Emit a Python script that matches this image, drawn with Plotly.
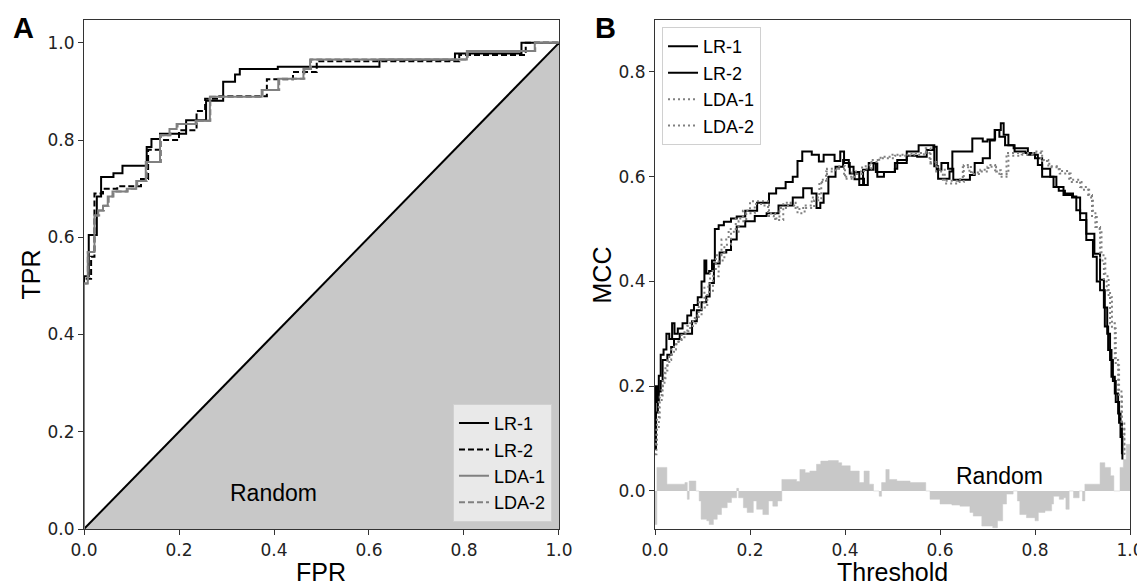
import plotly.graph_objects as go

# ---- panel A: ROC curves (step points, fpr where the curve rises -> tpr reached)
lr1_fpr = [0.0, 0.0, 0.010, 0.027, 0.036, 0.062, 0.081, 0.132, 0.142, 0.160, 0.215, 0.257, 0.293, 0.318, 0.328, 0.408, 0.622, 0.781, 0.921, 1.0]
lr1_tpr = [0.0, 0.520, 0.605, 0.684, 0.724, 0.732, 0.747, 0.786, 0.802, 0.813, 0.841, 0.881, 0.920, 0.935, 0.946, 0.951, 0.965, 0.978, 1.0, 1.0]

lr2_fpr = [0.0, 0.0, 0.015, 0.022, 0.040, 0.070, 0.120, 0.135, 0.160, 0.200, 0.237, 0.255, 0.280, 0.385, 0.440, 0.490, 0.790, 0.930, 1.0]
lr2_tpr = [0.0, 0.515, 0.560, 0.690, 0.700, 0.705, 0.720, 0.780, 0.800, 0.820, 0.860, 0.885, 0.890, 0.925, 0.940, 0.962, 0.975, 1.0, 1.0]

lda1_fpr = [0.0, 0.0, 0.008, 0.022, 0.030, 0.040, 0.050, 0.060, 0.090, 0.110, 0.130, 0.160, 0.180, 0.195, 0.235, 0.265, 0.374, 0.409, 0.462, 0.476, 0.806, 0.949, 1.0]
lda1_tpr = [0.0, 0.505, 0.570, 0.645, 0.655, 0.665, 0.684, 0.694, 0.700, 0.716, 0.755, 0.810, 0.823, 0.833, 0.840, 0.889, 0.903, 0.926, 0.946, 0.966, 0.983, 1.0, 1.0]

lda2_fpr = [0.0, 0.0, 0.008, 0.022, 0.032, 0.042, 0.052, 0.062, 0.092, 0.112, 0.132, 0.162, 0.182, 0.197, 0.237, 0.266, 0.376, 0.411, 0.464, 0.478, 0.808, 0.950, 1.0]
lda2_tpr = [0.0, 0.505, 0.570, 0.645, 0.655, 0.665, 0.684, 0.694, 0.700, 0.716, 0.755, 0.810, 0.823, 0.833, 0.840, 0.889, 0.903, 0.926, 0.946, 0.966, 0.983, 1.0, 1.0]

rand_fpr = [0.0, 1.0]
rand_tpr = [0.0, 1.0]

# ---- panel B: MCC vs threshold
lr1_thr = [0.000, 0.001, 0.004, 0.008, 0.012, 0.018, 0.024, 0.030, 0.036, 0.041, 0.048, 0.058, 0.068, 0.076, 0.082, 0.090,
           0.098, 0.104, 0.108, 0.114, 0.120, 0.126, 0.134, 0.145, 0.160, 0.172, 0.190, 0.215, 0.240, 0.255, 0.275, 0.290,
           0.300, 0.310, 0.330, 0.345, 0.355, 0.378, 0.390, 0.398, 0.410, 0.420, 0.430, 0.438, 0.450, 0.465, 0.480, 0.505,
           0.530, 0.555, 0.582, 0.588, 0.596, 0.620, 0.626, 0.660, 0.668, 0.690, 0.700, 0.716, 0.728, 0.734, 0.744, 0.755,
           0.780, 0.785, 0.806, 0.815, 0.839, 0.850, 0.863, 0.880, 0.887, 0.895, 0.908, 0.922, 0.930, 0.937, 0.947, 0.954,
           0.961, 0.968, 0.975, 0.980, 0.984]
lr1_mcc = [0.120, 0.200, 0.170, 0.220, 0.260, 0.270, 0.300, 0.290, 0.320, 0.300, 0.310, 0.320, 0.335, 0.345, 0.355, 0.370,
           0.400, 0.440, 0.415, 0.420, 0.440, 0.500, 0.507, 0.514, 0.520, 0.524, 0.535, 0.550, 0.568, 0.578, 0.590, 0.600,
           0.630, 0.648, 0.642, 0.629, 0.642, 0.630, 0.648, 0.626, 0.606, 0.595, 0.584, 0.613, 0.626, 0.609, 0.609, 0.626,
           0.648, 0.660, 0.660, 0.620, 0.596, 0.610, 0.648, 0.648, 0.673, 0.667, 0.671, 0.689, 0.702, 0.680, 0.660, 0.654,
           0.654, 0.642, 0.622, 0.600, 0.580, 0.573, 0.568, 0.562, 0.536, 0.517, 0.479, 0.447, 0.400, 0.383, 0.314, 0.269,
           0.218, 0.186, 0.148, 0.103, 0.060]

lr2_thr = [0.000, 0.002, 0.006, 0.012, 0.016, 0.026, 0.034, 0.040, 0.052, 0.070, 0.078, 0.088, 0.098, 0.108, 0.115, 0.124,
           0.136, 0.150, 0.160, 0.172, 0.190, 0.210, 0.235, 0.260, 0.290, 0.312, 0.330, 0.340, 0.348, 0.355, 0.365, 0.380,
           0.396, 0.408, 0.418, 0.430, 0.440, 0.448, 0.460, 0.468, 0.482, 0.505, 0.510, 0.530, 0.552, 0.572, 0.586, 0.593,
           0.603, 0.617, 0.628, 0.652, 0.663, 0.673, 0.690, 0.705, 0.715, 0.725, 0.737, 0.757, 0.780, 0.800, 0.815, 0.832,
           0.845, 0.860, 0.878, 0.895, 0.908, 0.925, 0.937, 0.945, 0.952, 0.958, 0.964, 0.970, 0.977, 0.983]
lr2_mcc = [0.080, 0.150, 0.190, 0.210, 0.250, 0.260, 0.275, 0.290, 0.300, 0.300, 0.324, 0.345, 0.360, 0.371, 0.397, 0.434,
           0.455, 0.460, 0.480, 0.505, 0.515, 0.525, 0.530, 0.545, 0.560, 0.578, 0.568, 0.540, 0.550, 0.568, 0.600, 0.619,
           0.632, 0.619, 0.609, 0.596, 0.584, 0.613, 0.625, 0.600, 0.609, 0.615, 0.632, 0.640, 0.638, 0.651, 0.657, 0.613,
           0.626, 0.615, 0.594, 0.594, 0.603, 0.626, 0.635, 0.669, 0.689, 0.676, 0.660, 0.648, 0.645, 0.635, 0.615, 0.600,
           0.580, 0.565, 0.560, 0.530, 0.491, 0.453, 0.403, 0.350, 0.300, 0.250, 0.210, 0.170, 0.130, 0.070]

lda1_thr = [0.000, 0.003, 0.008, 0.014, 0.020, 0.026, 0.034, 0.044, 0.056, 0.068, 0.080, 0.092, 0.104, 0.116, 0.128, 0.140,
            0.155, 0.170, 0.185, 0.200, 0.230, 0.240, 0.253, 0.270, 0.286, 0.300, 0.315, 0.335, 0.350, 0.362, 0.385, 0.400,
            0.420, 0.440, 0.455, 0.475, 0.500, 0.540, 0.570, 0.580, 0.595, 0.610, 0.640, 0.650, 0.665, 0.685, 0.700, 0.718,
            0.725, 0.740, 0.770, 0.800, 0.815, 0.830, 0.850, 0.872, 0.895, 0.912, 0.920, 0.927, 0.937, 0.945, 0.951, 0.958,
            0.968, 0.975, 0.982, 0.988]
lda1_mcc = [0.070, 0.120, 0.170, 0.200, 0.230, 0.250, 0.270, 0.285, 0.300, 0.315, 0.330, 0.360, 0.390, 0.420, 0.450, 0.480,
            0.500, 0.520, 0.535, 0.553, 0.553, 0.530, 0.517, 0.550, 0.545, 0.530, 0.540, 0.555, 0.594, 0.615, 0.620, 0.596,
            0.605, 0.615, 0.632, 0.638, 0.642, 0.645, 0.654, 0.625, 0.613, 0.587, 0.590, 0.622, 0.605, 0.613, 0.619, 0.610,
            0.600, 0.645, 0.645, 0.648, 0.630, 0.620, 0.611, 0.594, 0.580, 0.565, 0.523, 0.504, 0.440, 0.400, 0.383, 0.320,
            0.250, 0.193, 0.129, 0.065]

lda2_thr = [0.000, 0.004, 0.010, 0.016, 0.022, 0.030, 0.040, 0.050, 0.062, 0.074, 0.086, 0.098, 0.110, 0.122, 0.134, 0.146,
            0.160, 0.176, 0.192, 0.210, 0.226, 0.238, 0.250, 0.262, 0.280, 0.296, 0.312, 0.330, 0.346, 0.360, 0.380, 0.398,
            0.415, 0.436, 0.452, 0.472, 0.505, 0.545, 0.566, 0.578, 0.592, 0.606, 0.636, 0.648, 0.662, 0.682, 0.702, 0.716,
            0.728, 0.744, 0.772, 0.796, 0.812, 0.828, 0.852, 0.875, 0.898, 0.914, 0.922, 0.930, 0.940, 0.948, 0.955, 0.962,
            0.970, 0.977, 0.983, 0.988]
lda2_mcc = [0.090, 0.140, 0.180, 0.210, 0.240, 0.260, 0.280, 0.290, 0.305, 0.320, 0.335, 0.350, 0.380, 0.410, 0.440, 0.470,
            0.495, 0.515, 0.530, 0.548, 0.545, 0.525, 0.520, 0.540, 0.550, 0.538, 0.545, 0.560, 0.590, 0.610, 0.615, 0.600,
            0.610, 0.620, 0.628, 0.635, 0.640, 0.642, 0.648, 0.628, 0.610, 0.592, 0.595, 0.618, 0.608, 0.610, 0.622, 0.612,
            0.605, 0.640, 0.642, 0.645, 0.632, 0.618, 0.606, 0.590, 0.575, 0.560, 0.530, 0.500, 0.450, 0.410, 0.370, 0.310,
            0.240, 0.180, 0.120, 0.070]

rand_thr = [0.000, 0.004, 0.021, 0.025, 0.063, 0.068, 0.072, 0.086, 0.093, 0.097, 0.109, 0.114, 0.123, 0.131, 0.140, 0.152,
            0.161, 0.172, 0.176, 0.186, 0.194, 0.207, 0.214, 0.227, 0.239, 0.248, 0.258, 0.267, 0.291, 0.298, 0.305, 0.316,
            0.326, 0.340, 0.349, 0.365, 0.386, 0.393, 0.411, 0.430, 0.440, 0.451, 0.460, 0.472, 0.477, 0.486, 0.493, 0.509,
            0.523, 0.537, 0.570, 0.579, 0.600, 0.625, 0.642, 0.663, 0.670, 0.688, 0.711, 0.721, 0.732, 0.740, 0.754, 0.763,
            0.768, 0.782, 0.800, 0.807, 0.821, 0.835, 0.839, 0.851, 0.860, 0.865, 0.872, 0.881, 0.893, 0.900, 0.905, 0.923,
            0.937, 0.947, 0.959, 0.966, 0.979, 0.986, 0.992, 1.000]
rand_mcc = [-0.064, 0.045, 0.045, 0.013, 0.016, -0.016, 0.019, 0.000, -0.019, -0.054, -0.057, -0.064, -0.054, -0.045, -0.032, -0.022,
            -0.013, 0.005, -0.013, -0.032, -0.041, -0.019, -0.035, -0.045, -0.019, -0.029, -0.019, 0.022, 0.022, 0.018, 0.041, 0.035,
            0.038, 0.051, 0.057, 0.058, 0.054, 0.048, 0.038, 0.016, 0.038, 0.013, 0.000, -0.010, 0.016, 0.041, 0.022, 0.019,
            0.019, 0.016, 0.000, -0.016, -0.025, -0.027, -0.029, -0.041, -0.048, -0.067, -0.070, -0.057, -0.025, -0.006, 0.000, -0.019,
            -0.045, -0.051, -0.057, -0.041, -0.038, -0.025, -0.010, -0.016, -0.013, -0.035, 0.000, -0.013, 0.000, -0.019, 0.013, 0.013,
            0.054, 0.045, 0.029, 0.000, 0.045, 0.060, 0.089, 0.089]

TXT = "Liberation Sans, Arial, sans-serif"
TICK = "DejaVu Sans, sans-serif"
GREY = "#808080"
FILL = "#c8c8c8"

fig = go.Figure()

# panel A
fig.add_trace(go.Scatter(x=rand_fpr, y=rand_tpr, mode="lines", fill="tozeroy", fillcolor=FILL,
                         line=dict(color="black", width=2), showlegend=False, xaxis="x", yaxis="y"))
fig.add_trace(go.Scatter(x=lr1_fpr, y=lr1_tpr, name="LR-1", mode="lines", line_shape="hv",
                         line=dict(color="black", width=2), legend="legend", xaxis="x", yaxis="y"))
fig.add_trace(go.Scatter(x=lr2_fpr, y=lr2_tpr, name="LR-2", mode="lines", line_shape="hv",
                         line=dict(color="black", width=2, dash="6px,3px"), legend="legend", xaxis="x", yaxis="y"))
fig.add_trace(go.Scatter(x=lda1_fpr, y=lda1_tpr, name="LDA-1", mode="lines", line_shape="hv",
                         line=dict(color=GREY, width=2), legend="legend", xaxis="x", yaxis="y"))
fig.add_trace(go.Scatter(x=lda2_fpr, y=lda2_tpr, name="LDA-2", mode="lines", line_shape="hv",
                         line=dict(color=GREY, width=2, dash="6px,3px"), legend="legend", xaxis="x", yaxis="y"))

# panel B
fig.add_trace(go.Scatter(x=rand_thr, y=rand_mcc, mode="lines", line_shape="hv", fill="tozeroy",
                         fillcolor=FILL, line=dict(color=FILL, width=0.5), showlegend=False,
                         xaxis="x2", yaxis="y2"))
fig.add_trace(go.Scatter(x=lr1_thr, y=lr1_mcc, name="LR-1", mode="lines", line_shape="hv",
                         line=dict(color="black", width=2), legend="legend2", xaxis="x2", yaxis="y2"))
fig.add_trace(go.Scatter(x=lr2_thr, y=lr2_mcc, name="LR-2", mode="lines", line_shape="hv",
                         line=dict(color="black", width=2), legend="legend2", xaxis="x2", yaxis="y2"))
fig.add_trace(go.Scatter(x=lda1_thr, y=lda1_mcc, name="LDA-1", mode="lines", line_shape="hv",
                         line=dict(color=GREY, width=2, dash="2px,3px"), legend="legend2", xaxis="x2", yaxis="y2"))
fig.add_trace(go.Scatter(x=lda2_thr, y=lda2_mcc, name="LDA-2", mode="lines", line_shape="hv",
                         line=dict(color=GREY, width=2, dash="2px,3px"), legend="legend2", xaxis="x2", yaxis="y2"))

axis_common = dict(showgrid=False, zeroline=False, showline=True, mirror=True, linecolor="#333333",
                   linewidth=1.2, ticks="outside", ticklen=5, tickcolor="#333333", automargin=False,
                   tickfont=dict(family=TICK, size=17, color="#222222"))

ticks01 = [0, 0.2, 0.4, 0.6, 0.8, 1.0]
labels01 = ["0.0", "0.2", "0.4", "0.6", "0.8", "1.0"]

title_font = dict(family=TXT, size=25, color="black")

# the page body adds an 8px offset, so the figure is 8px smaller than the window
fig.update_layout(
    width=1137, height=578,
    margin=dict(l=76, r=15, t=12, b=57),
    plot_bgcolor="white", paper_bgcolor="white",
    xaxis=dict(domain=[0, 0.4541], range=[0, 1], tickvals=ticks01, ticktext=labels01,
               anchor="y", **axis_common),
    yaxis=dict(domain=[0, 1], range=[0, 1.047], tickvals=ticks01, ticktext=labels01,
               anchor="x", **axis_common),
    xaxis2=dict(domain=[0.5459, 1], range=[0, 1], tickvals=ticks01, ticktext=labels01,
                anchor="y2", **axis_common),
    yaxis2=dict(domain=[0, 1], range=[-0.0726, 0.899], tickvals=ticks01[:5], ticktext=labels01[:5],
                anchor="x2", **axis_common),
    legend=dict(x=0.4474, y=0.014, xanchor="right", yanchor="bottom",
                bgcolor="rgba(255,255,255,0.6)", bordercolor="#d0d0d0", borderwidth=1,
                font=dict(family=TXT, size=18, color="black"), itemwidth=30, tracegroupgap=0),
    legend2=dict(x=0.5526, y=0.986, xanchor="left", yanchor="top",
                 bgcolor="rgba(255,255,255,0.8)", bordercolor="#d0d0d0", borderwidth=1,
                 font=dict(family=TXT, size=18, color="black"), itemwidth=30, tracegroupgap=0),
    annotations=[
        # axis titles
        dict(text="FPR", x=0.5, y=-0.0835, xref="x domain", yref="paper", showarrow=False,
             xanchor="center", yanchor="middle", font=title_font),
        dict(text="Threshold", x=0.5, y=-0.0835, xref="x2 domain", yref="paper", showarrow=False,
             xanchor="center", yanchor="middle", font=title_font),
        dict(text="TPR", x=-0.0516, y=0.5, xref="paper", yref="paper", showarrow=False, textangle=-90,
             xanchor="center", yanchor="middle", font=title_font),
        dict(text="MCC", x=0.4952, y=0.5, xref="paper", yref="paper", showarrow=False, textangle=-90,
             xanchor="center", yanchor="middle", font=title_font),
        # in-plot labels
        dict(text="Random", x=0.398, y=0.074, xref="x", yref="y", showarrow=False,
             font=dict(family=TXT, size=23, color="black")),
        dict(text="Random", x=0.726, y=0.029, xref="x2", yref="y2", showarrow=False,
             font=dict(family=TXT, size=23, color="black")),
        # panel letters
        dict(text="<b>A</b>", x=-0.058, y=0.984, xref="paper", yref="paper", showarrow=False,
             xanchor="center", yanchor="middle", font=dict(family=TXT, size=29, color="black")),
        dict(text="<b>B</b>", x=0.499, y=0.984, xref="paper", yref="paper", showarrow=False,
             xanchor="center", yanchor="middle", font=dict(family=TXT, size=29, color="black")),
    ],
)

fig.write_html("out.html")
